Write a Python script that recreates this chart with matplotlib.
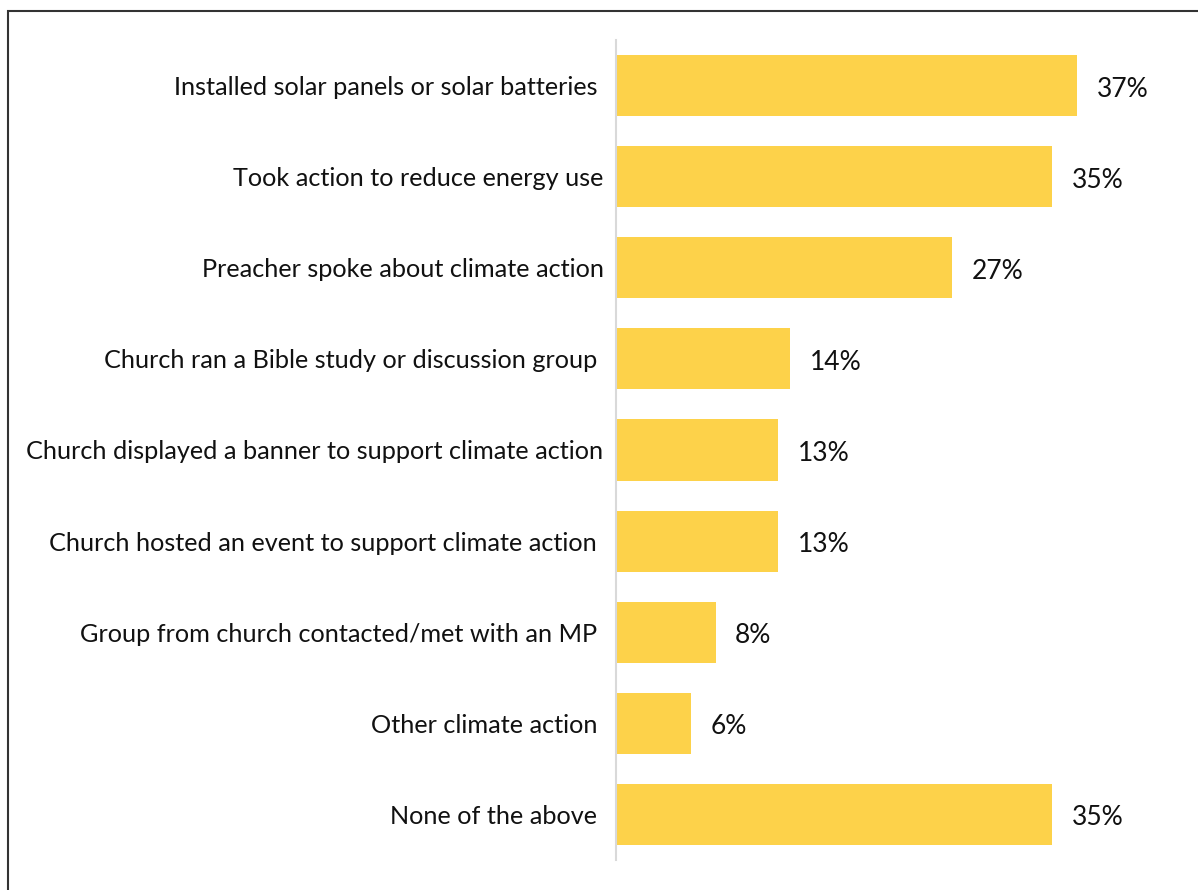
import matplotlib.pyplot as plt
from matplotlib.patches import Rectangle

# Share of respondents for each kind of church climate action
actions = [
    "Installed solar panels or solar batteries ",
    "Took action to reduce energy use",
    "Preacher spoke about climate action",
    "Church ran a Bible study or discussion group ",
    "Church displayed a banner to support climate action",
    "Church hosted an event to support climate action ",
    "Group from church contacted/met with an MP ",
    "Other climate action ",
    "None of the above ",
]
percent = [37, 35, 27, 14, 13, 13, 8, 6, 35]

bar_color = "#FDD24A"

plt.rcParams["font.family"] = ["Lato", "DejaVu Sans"]

fig = plt.figure(figsize=(11.98, 8.90), dpi=100)
ax = fig.add_axes([616 / 1198, 30 / 890, 574 / 1198, 820 / 890])

ypos = list(range(len(actions)))
ax.barh(ypos, percent, height=0.67, color=bar_color)

for y, v in zip(ypos, percent):
    ax.annotate(f"{v}%", xy=(v, y), xytext=(14, -2.5), textcoords="offset points",
                va="center", ha="left", fontsize=19, color="#111111")

ax.set_xlim(0, 574 / 12.46)
ax.set_ylim(len(actions) - 0.5, -0.5)
ax.set_yticks(ypos)
ax.set_yticklabels(actions, fontsize=18.2, color="#111111")
ax.tick_params(axis="y", length=0, pad=9)
ax.set_xticks([])

for side in ["top", "right", "bottom"]:
    ax.spines[side].set_visible(False)
ax.spines["left"].set_color("#D9D9D9")
ax.spines["left"].set_linewidth(1.5)

# outer frame around the chart
fig.add_artist(Rectangle((8 / 1198, -0.2), 1.2, 0.2 + (890 - 11) / 890,
                         transform=fig.transFigure, fill=False,
                         edgecolor="#333333", linewidth=1.5, clip_on=False))

fig.savefig("out.png", dpi=100)
